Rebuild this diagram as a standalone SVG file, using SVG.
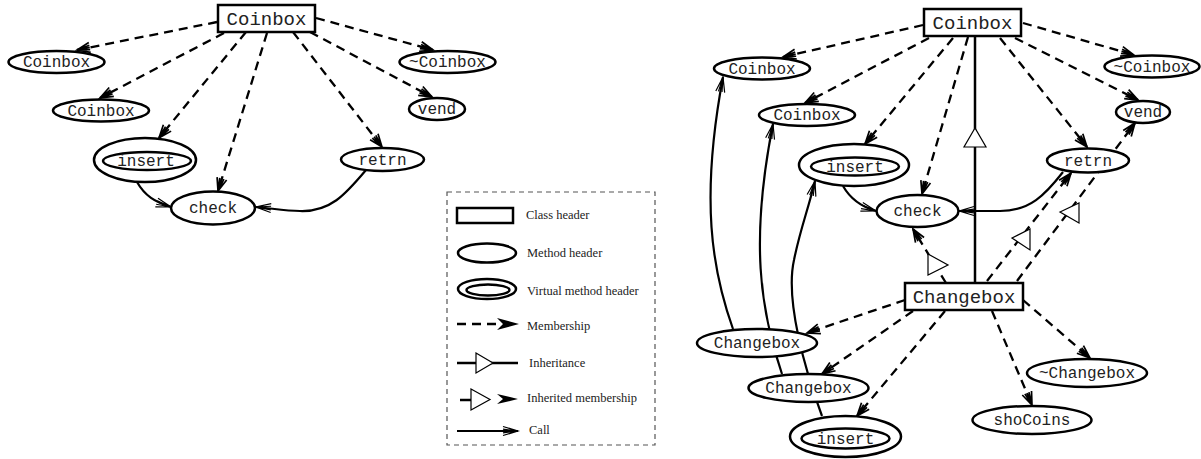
<svg xmlns="http://www.w3.org/2000/svg" width="1201" height="459" viewBox="0 0 1201 459">
  <style>
    .cls { fill: #fff; stroke: #000; stroke-width: 2.5; }
    .meth { fill: #fff; stroke: #000; stroke-width: 2.5; }
    .vin { fill: none; stroke: #000; stroke-width: 2.5; }
    .lbl { font-family: "Liberation Mono", "DejaVu Sans Mono", monospace; font-size: 16px; fill: #222; text-anchor: middle; }
    .hdr { font-family: "Liberation Mono", "DejaVu Sans Mono", monospace; font-size: 19px; fill: #222; text-anchor: middle; }
    .mem { fill: none; stroke: #000; stroke-width: 2.3; stroke-dasharray: 9 6; marker-end: url(#memHead); }
    .imem { fill: none; stroke: #000; stroke-width: 2.3; stroke-dasharray: 9 6; marker-end: url(#memHead); }
    .call { fill: none; stroke: #000; stroke-width: 2.2; marker-end: url(#callHead); }
    .inh { fill: none; stroke: #000; stroke-width: 2.5; }
    .tri { fill: #fff; stroke: #000; stroke-width: 1.2; }
    .key { font-family: "Liberation Serif", "DejaVu Serif", serif; font-size: 12.5px; fill: #222; }
  </style>
  <defs>
    <marker id="memHead" viewBox="-15 -7 17 14" refX="0" refY="0" markerWidth="17" markerHeight="14" markerUnits="userSpaceOnUse" orient="auto">
      <path d="M-13,-5 L0,0 L-13,5 M-13,-2.2 L0,0 L-13,2.2 M-13,0 L0,0" fill="none" stroke="#000" stroke-width="1.7" stroke-dasharray="none"/>
    </marker>
    <marker id="callHead" viewBox="-17 -7 19 14" refX="0" refY="0" markerWidth="19" markerHeight="14" markerUnits="userSpaceOnUse" orient="auto">
      <path d="M-15,-4.5 L0,0 L-15,4.5 M-15,-1.8 L0,0 L-15,1.8" fill="none" stroke="#000" stroke-width="1.2"/>
    </marker>
  </defs>
  <rect width="1201" height="459" fill="#fff"/>

  <!-- connectors -->
  <g id="connectors">
    <!-- Coinbox (left) membership -->
    <path class="mem" d="M217,22 L77,50"/>
    <path class="mem" d="M224,33 L100,98"/>
    <path class="mem" d="M246,32 L159,138"/>
    <path class="mem" d="M267,33 L218,191"/>
    <path class="mem" d="M293,32 L382,147"/>
    <path class="mem" d="M310,32 L432,97"/>
    <path class="mem" d="M316,18 L433,50"/>
    <!-- Coinbox (left) calls -->
    <path class="call" d="M137,182 C145,196 155,202 171,207"/>
    <path class="call" d="M366,170 C345,195 330,212 300,211 C285,211 270,208 256,207"/>

    <!-- Coinbox (right) membership -->
    <path class="mem" d="M923,25 L783,57"/>
    <path class="mem" d="M929,38 L805,103"/>
    <path class="mem" d="M953,38 L865,144"/>
    <path class="mem" d="M968,37 L922,194"/>
    <path class="mem" d="M1000,38 L1087,147"/>
    <path class="mem" d="M1015,38 L1138,100"/>
    <path class="mem" d="M1023,23 L1134,55"/>
    <!-- Coinbox (right) calls -->
    <path class="call" d="M843,186 C851,200 862,207 876,211"/>
    <path class="call" d="M1063,172 C1045,195 1030,211 1000,211 L959,211"/>
    <path class="call" d="M733,329 C712,270 700,200 723,77"/>
    <path class="call" d="M782,374 C760,310 750,240 773,124"/>
    <path class="call" d="M822,416 C805,370 785,300 794,260 C800,230 808,210 815,181"/>

    <!-- inheritance Changebox -> Coinbox -->
    <path class="inh" d="M975,36 L975,283"/>
    <polygon class="tri" points="975,128 964,147 986,147"/>

    <!-- inherited membership -->
    <path class="imem" d="M946,283 L913,229"/>
    <polygon class="tri" points="928,254 948,265 928,275"/>
    <path class="imem" d="M987,281 L1071,173"/>
    <polygon class="tri" points="1012,238 1030,229 1030,250"/>
    <path class="imem" d="M1017,281 L1135,123"/>
    <polygon class="tri" points="1060,212 1079,203 1079,223"/>

    <!-- Changebox membership -->
    <path class="mem" d="M905,300 L807,333"/>
    <path class="mem" d="M913,311 L822,374"/>
    <path class="mem" d="M945,311 L857,416"/>
    <path class="mem" d="M992,311 L1032,405"/>
    <path class="mem" d="M1023,300 L1090,358"/>
  </g>

  <!-- left graph nodes -->
  <g id="L_Coinbox">
    <rect class="cls" x="218" y="5" width="97" height="27"/>
    <text class="hdr" x="266.5" y="25">Coinbox</text>
  </g>
  <g id="L_Coinbox_m1">
    <ellipse class="meth" cx="56.5" cy="62" rx="48" ry="11"/>
    <text class="lbl" x="56.5" y="67">Coinbox</text>
  </g>
  <g id="L_Coinbox_m2">
    <ellipse class="meth" cx="101" cy="110.5" rx="48" ry="11"/>
    <text class="lbl" x="101" y="115.5">Coinbox</text>
  </g>
  <g id="L_dtor">
    <ellipse class="meth" cx="447.5" cy="62" rx="48" ry="11"/>
    <text class="lbl" x="447.5" y="67">~Coinbox</text>
  </g>
  <g id="L_vend">
    <ellipse class="meth" cx="437" cy="109" rx="28" ry="11"/>
    <text class="lbl" x="437" y="114">vend</text>
  </g>
  <g id="L_insert">
    <ellipse class="meth" cx="145" cy="160" rx="51" ry="22"/>
    <ellipse class="vin" cx="147" cy="161" rx="44" ry="9"/>
    <text class="lbl" x="146" y="166">insert</text>
  </g>
  <g id="L_check">
    <ellipse class="meth" cx="213" cy="208" rx="42" ry="16.5"/>
    <text class="lbl" x="213" y="213">check</text>
  </g>
  <g id="L_retrn">
    <ellipse class="meth" cx="382.5" cy="159.5" rx="41.5" ry="11.5"/>
    <text class="lbl" x="382.5" y="164.5">retrn</text>
  </g>

  <!-- legend -->
  <g id="legend">
    <rect x="447" y="192" width="208" height="253" fill="none" stroke="#555" stroke-width="1.2" stroke-dasharray="5 4"/>
    <rect class="cls" x="457" y="208" width="56" height="15" stroke-width="2"/>
    <text class="key" x="526" y="219">Class header</text>
    <ellipse class="meth" cx="487" cy="253" rx="29" ry="9.5" stroke-width="2"/>
    <text class="key" x="527" y="257">Method header</text>
    <ellipse class="meth" cx="487" cy="289" rx="29" ry="10" stroke-width="2"/>
    <ellipse class="vin" cx="488" cy="290" rx="21.5" ry="5.5" stroke-width="2"/>
    <text class="key" x="527" y="295">Virtual method header</text>
    <path d="M457,324 L497,324" stroke="#000" stroke-width="2.3" stroke-dasharray="9 6" fill="none"/>
    <polygon points="519,324 497,318 503,324 497,330" fill="#000"/>
    <text class="key" x="527" y="330">Membership</text>
    <path class="inh" d="M457,363 L518,363" stroke-width="2.2"/>
    <polygon class="tri" points="476,353 493,363 476,373"/>
    <text class="key" x="529" y="367">Inheritance</text>
    <path class="inh" d="M460,400 L471,400" stroke-width="2.2"/>
    <polygon class="tri" points="471,389 490,399.5 471,410"/>
    <polygon points="518,399 497,394 503,399 497,404" fill="#000"/>
    <text class="key" x="527" y="402">Inherited membership</text>
    <path class="call" d="M457,431 L518,431"/>
    <text class="key" x="529" y="434">Call</text>
  </g>

  <!-- right graph nodes -->
  <g id="R_Coinbox">
    <rect class="cls" x="924" y="9" width="97" height="27"/>
    <text class="hdr" x="972.5" y="29">Coinbox</text>
  </g>
  <g id="R_Coinbox_m1">
    <ellipse class="meth" cx="762" cy="68.5" rx="48" ry="11"/>
    <text class="lbl" x="762" y="73.5">Coinbox</text>
  </g>
  <g id="R_Coinbox_m2">
    <ellipse class="meth" cx="807" cy="115" rx="48" ry="11"/>
    <text class="lbl" x="807" y="120">Coinbox</text>
  </g>
  <g id="R_dtor">
    <ellipse class="meth" cx="1152" cy="66.5" rx="47.5" ry="11"/>
    <text class="lbl" x="1152" y="71.5">~Coinbox</text>
  </g>
  <g id="R_vend">
    <ellipse class="meth" cx="1143" cy="112" rx="27" ry="11"/>
    <text class="lbl" x="1143" y="117">vend</text>
  </g>
  <g id="R_insert">
    <ellipse class="meth" cx="854" cy="165" rx="55" ry="21"/>
    <ellipse class="vin" cx="855" cy="166.5" rx="44" ry="9"/>
    <text class="lbl" x="855" y="171.5">insert</text>
  </g>
  <g id="R_check">
    <ellipse class="meth" cx="917.5" cy="211" rx="41" ry="16"/>
    <text class="lbl" x="917.5" y="216">check</text>
  </g>
  <g id="R_retrn">
    <ellipse class="meth" cx="1088" cy="160.5" rx="41" ry="12"/>
    <text class="lbl" x="1088" y="165.5">retrn</text>
  </g>
  <g id="R_Changebox">
    <rect class="cls" x="905" y="283" width="118" height="27"/>
    <text class="hdr" x="964" y="303">Changebox</text>
  </g>
  <g id="R_Changebox_m1">
    <ellipse class="meth" cx="757" cy="343" rx="60" ry="14"/>
    <text class="lbl" x="757" y="348">Changebox</text>
  </g>
  <g id="R_Changebox_m2">
    <ellipse class="meth" cx="808.5" cy="388" rx="60" ry="14"/>
    <text class="lbl" x="808.5" y="393">Changebox</text>
  </g>
  <g id="R_insert2">
    <ellipse class="meth" cx="845.5" cy="436.5" rx="55.5" ry="20.5"/>
    <ellipse class="vin" cx="845.5" cy="438.5" rx="44" ry="10"/>
    <text class="lbl" x="845.5" y="443.5">insert</text>
  </g>
  <g id="R_dtor2">
    <ellipse class="meth" cx="1087" cy="373" rx="60" ry="14"/>
    <text class="lbl" x="1087" y="378">~Changebox</text>
  </g>
  <g id="R_shoCoins">
    <ellipse class="meth" cx="1032" cy="420" rx="59.5" ry="14"/>
    <text class="lbl" x="1032" y="425">shoCoins</text>
  </g>
</svg>
